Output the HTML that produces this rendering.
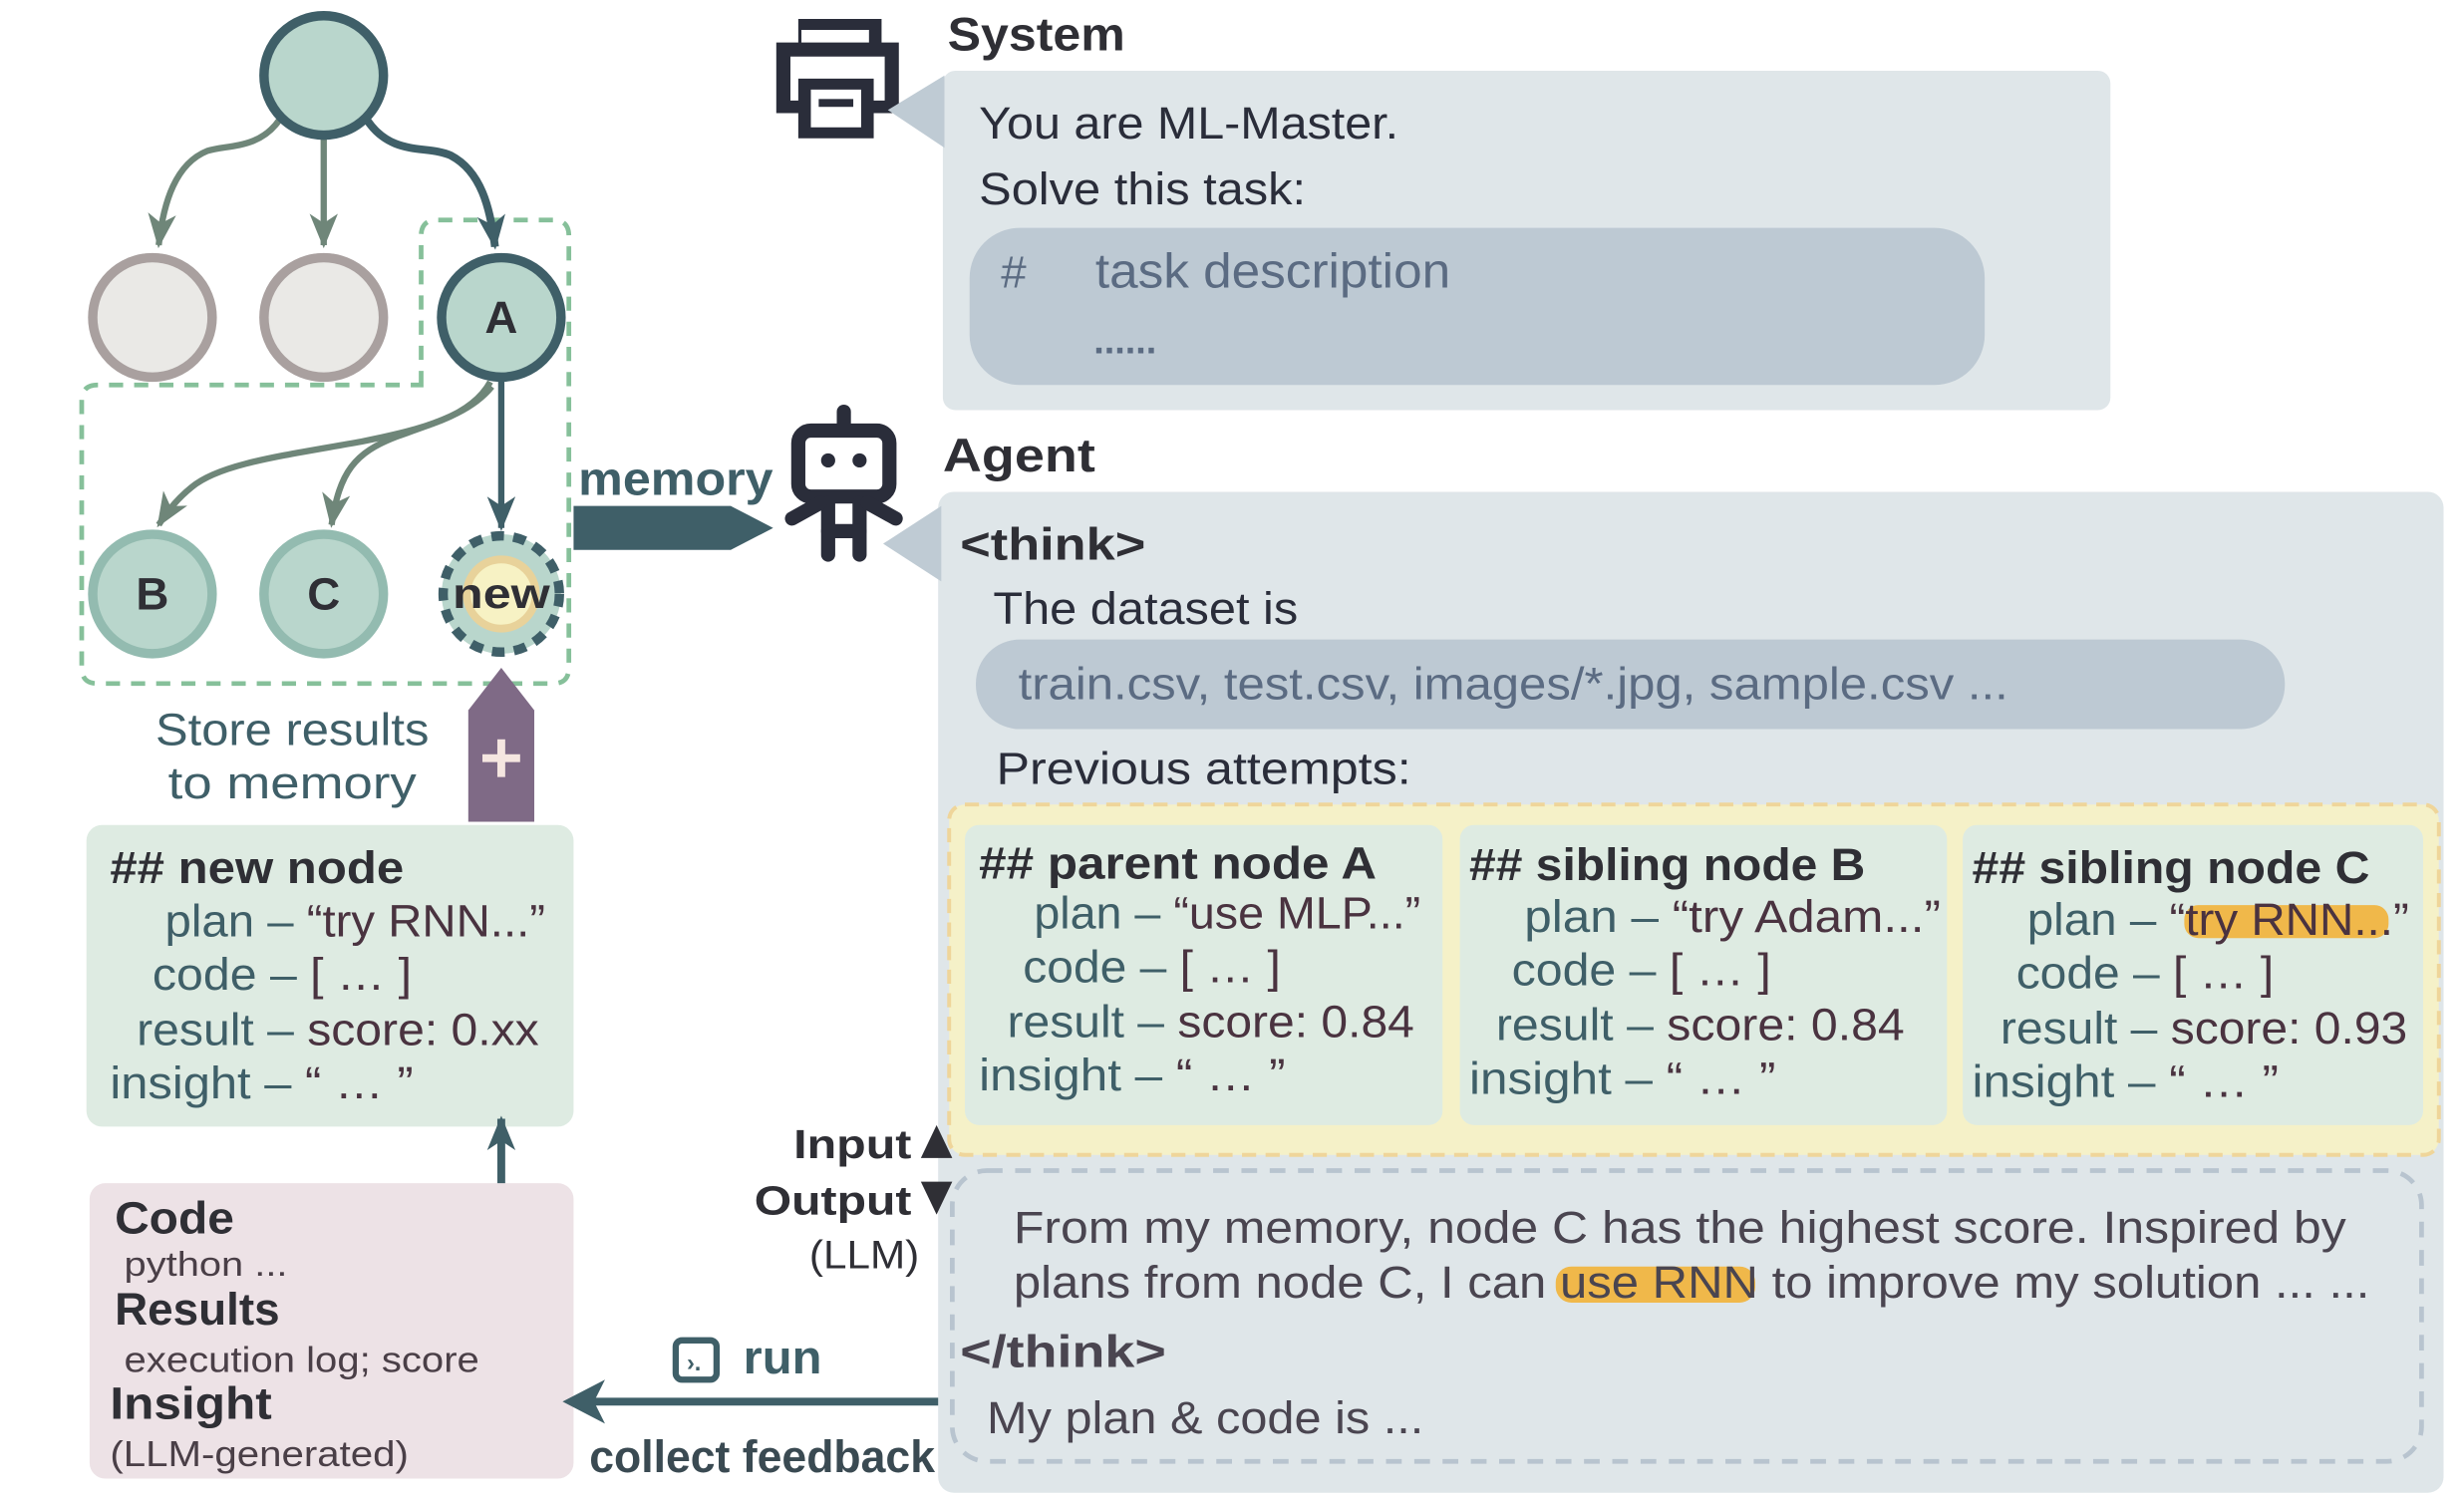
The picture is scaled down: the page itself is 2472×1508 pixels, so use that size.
<!DOCTYPE html>
<html><head><meta charset="utf-8"><style>
html,body{margin:0;padding:0;background:#fff;width:2472px;height:1508px;overflow:hidden}
svg{display:block}
text{font-family:"Liberation Sans",sans-serif}
.t{fill:#3f5f68}.v{fill:#4a3340}.h{fill:#2f2f35;font-weight:bold}
</style></head><body>
<svg width="2472" height="1508" viewBox="0 0 1568 956.5" xmlns="http://www.w3.org/2000/svg">
<defs>
<marker id="ag" markerUnits="userSpaceOnUse" markerWidth="24" markerHeight="20" refX="20" refY="9" orient="auto"><path d="M0,0 L22,9 L0,18 L6,9 z" fill="#6f8679"/></marker>
<marker id="ad" markerUnits="userSpaceOnUse" markerWidth="24" markerHeight="20" refX="20" refY="9" orient="auto"><path d="M0,0 L22,9 L0,18 L6,9 z" fill="#3f5f68"/></marker>
</defs>
<path d="M268,245 L268,150 Q268,140 278,140 L352,140 Q362,140 362,150 L362,425 Q362,435 352,435 L62,435 Q52,435 52,425 L52,255 Q52,245 62,245 Z" fill="none" stroke="#86c09a" stroke-width="3" stroke-dasharray="9,7"/>
<path d="M178,76 C165,95 145,92 132,96 C112,104 104,128 101,156" fill="none" stroke="#6f8679" stroke-width="4" marker-end="url(#ag)"/>
<path d="M206,88 L206,156" fill="none" stroke="#6f8679" stroke-width="4" marker-end="url(#ag)"/>
<path d="M234,77 C250,100 272,92 287,99 C306,109 312,132 315,157" fill="none" stroke="#3f5f68" stroke-width="5" marker-end="url(#ad)"/>
<path d="M312,243 C300,265 270,273 230,281 C180,290 140,295 122,310 C112,318 106,326 101,334" fill="none" stroke="#6f8679" stroke-width="4" marker-end="url(#ag)"/>
<path d="M313,246 C300,262 280,268 252,278 C226,288 216,300 211,334" fill="none" stroke="#6f8679" stroke-width="4" marker-end="url(#ag)"/>
<path d="M319,240 L319,336" fill="none" stroke="#3f5f68" stroke-width="4" marker-end="url(#ad)"/>
<circle cx="206" cy="48" r="38" fill="#b9d6cc" stroke="#3f5f68" stroke-width="6"/>
<circle cx="97" cy="202" r="38" fill="#eae9e6" stroke="#a9a09f" stroke-width="6"/>
<circle cx="206" cy="202" r="38" fill="#eae9e6" stroke="#a9a09f" stroke-width="6"/>
<circle cx="319" cy="202" r="38" fill="#b9d6cc" stroke="#3f5f68" stroke-width="6"/>
<text x="319" y="212" font-size="29" text-anchor="middle" class="h">A</text>
<circle cx="97" cy="378" r="38" fill="#b9d6cc" stroke="#93bbb0" stroke-width="6"/>
<text x="97" y="388" font-size="29" text-anchor="middle" class="h">B</text>
<circle cx="206" cy="378" r="38" fill="#b9d6cc" stroke="#93bbb0" stroke-width="6"/>
<text x="206" y="388" font-size="29" text-anchor="middle" class="h">C</text>
<circle cx="319" cy="378" r="38" fill="#b9d6cc"/>
<circle cx="319" cy="378" r="22" fill="#f7f2c4" stroke="#e8d29a" stroke-width="5"/>
<circle cx="319" cy="378" r="37" fill="none" stroke="#3f5f68" stroke-width="6" stroke-dasharray="8,6"/>
<text x="319" y="387" font-size="27" text-anchor="middle" class="h" textLength="62" lengthAdjust="spacingAndGlyphs">new</text>
<text x="368" y="315" font-size="30" fill="#3f5f68" font-weight="bold" textLength="124" lengthAdjust="spacingAndGlyphs">memory</text>
<polygon points="365,322 465,322 492,336 465,350 365,350" fill="#3f5f68"/>
<polygon points="298,523 340,523 340,452 319,425 298,452" fill="#7f6a86"/>
<rect x="307" y="480" width="24" height="5" fill="#f5e6e0"/><rect x="316.5" y="470.5" width="5" height="24" fill="#f5e6e0"/>
<text x="186" y="474" font-size="29" fill="#3f5f68" text-anchor="middle" textLength="174" lengthAdjust="spacingAndGlyphs">Store results</text>
<text x="186" y="508" font-size="29" fill="#3f5f68" text-anchor="middle" textLength="158" lengthAdjust="spacingAndGlyphs">to memory</text>
<rect x="55" y="525" width="310" height="192" rx="10" fill="#deebe2"/>
<text x="70" y="562" font-size="29" class="h" textLength="187" lengthAdjust="spacingAndGlyphs">## new node</text>
<text x="105" y="596" font-size="29" textLength="242" lengthAdjust="spacingAndGlyphs"><tspan class="t">plan – </tspan><tspan class="v">“try RNN...”</tspan></text>
<text x="97" y="630" font-size="29" textLength="165" lengthAdjust="spacingAndGlyphs"><tspan class="t">code – </tspan><tspan class="v">[ … ]</tspan></text>
<text x="87" y="665" font-size="29" textLength="256" lengthAdjust="spacingAndGlyphs"><tspan class="t">result – </tspan><tspan class="v">score: 0.xx</tspan></text>
<text x="70" y="699" font-size="29" textLength="193" lengthAdjust="spacingAndGlyphs"><tspan class="t">insight – </tspan><tspan class="v">“ … ”</tspan></text>
<path d="M319,768 L319,712" stroke="#3f5f68" stroke-width="5" marker-end="url(#ad)"/>
<rect x="57" y="753" width="308" height="188" rx="10" fill="#ede2e6"/>
<text x="73" y="785" font-size="29" class="h" textLength="76" lengthAdjust="spacingAndGlyphs">Code</text>
<text x="79" y="812" font-size="22" fill="#4a3f47" textLength="104" lengthAdjust="spacingAndGlyphs">python ...</text>
<text x="73" y="843" font-size="29" class="h" textLength="105" lengthAdjust="spacingAndGlyphs">Results</text>
<text x="79" y="873" font-size="23" fill="#4a3f47" textLength="226" lengthAdjust="spacingAndGlyphs">execution log; score</text>
<text x="70" y="903" font-size="29" class="h" textLength="103" lengthAdjust="spacingAndGlyphs">Insight</text>
<text x="70" y="933" font-size="23" fill="#4a3f47" textLength="190" lengthAdjust="spacingAndGlyphs">(LLM-generated)</text>
<line x1="598" y1="892" x2="375" y2="892" stroke="#3f5f68" stroke-width="5"/>
<polygon points="358,892 385,878 378,892 385,906" fill="#3f5f68"/>
<rect x="430" y="853" width="26" height="25" rx="4" fill="none" stroke="#3f5f68" stroke-width="4"/>
<text x="437" y="872" font-size="15" fill="#3f5f68" font-weight="bold">›.</text>
<text x="473" y="874" font-size="30" fill="#3f5f68" font-weight="bold" textLength="50" lengthAdjust="spacingAndGlyphs">run</text>
<text x="375" y="937" font-size="29" fill="#3a4a52" font-weight="bold" textLength="220" lengthAdjust="spacingAndGlyphs">collect feedback</text>
<text x="505" y="737" font-size="26" class="h" textLength="75" lengthAdjust="spacingAndGlyphs">Input</text>
<text x="480" y="773" font-size="26" class="h" textLength="100" lengthAdjust="spacingAndGlyphs">Output</text>
<text x="515" y="807" font-size="25" fill="#2f2f35" textLength="70" lengthAdjust="spacingAndGlyphs">(LLM)</text>
<g fill="#2a2d3a">
<path d="M494,27 L508,27 L508,12 L561,12 L561,27 L572,27 L572,72 L556,72 L556,88 L508,88 L508,72 L494,72 Z M503,36 L503,64 L508,64 L508,50 L556,50 L556,64 L563,64 L563,36 Z M510,19 L510,27 L553,27 L553,19 Z M516,57 L516,81 L548,81 L548,57 Z"/>
<rect x="521" y="63" width="22" height="5"/>
</g>
<text x="603" y="32" font-size="30" class="h" textLength="113" lengthAdjust="spacingAndGlyphs">System</text>
<rect x="600" y="45" width="743" height="216" rx="8" fill="#dfe6e9"/>
<polygon points="565,70 601,48 601,94" fill="#bfcbd4"/>
<text x="623" y="88" font-size="29" fill="#2a2d3a" textLength="267" lengthAdjust="spacingAndGlyphs">You are ML-Master.</text>
<text x="623" y="130" font-size="29" fill="#2a2d3a" textLength="208" lengthAdjust="spacingAndGlyphs">Solve this task:</text>
<rect x="617" y="145" width="646" height="100" rx="32" fill="#bdc9d3"/>
<text x="637" y="183" font-size="29" fill="#5b6b82">#</text>
<text x="697" y="183" font-size="31" fill="#5b6b82" textLength="226" lengthAdjust="spacingAndGlyphs">task description</text>
<text x="696" y="225" font-size="24" fill="#5b6b82" font-weight="bold">......</text>
<g fill="none" stroke="#2a2d3a" stroke-width="9" stroke-linecap="round">
<rect x="508" y="274" width="58" height="42" rx="8"/>
<line x1="537" y1="262" x2="537" y2="272"/>
<line x1="527" y1="320" x2="527" y2="353"/><line x1="547" y1="320" x2="547" y2="353"/>
<line x1="527" y1="338" x2="547" y2="338"/>
<line x1="504" y1="330" x2="522" y2="320"/><line x1="552" y1="320" x2="570" y2="330"/>
</g>
<circle cx="527" cy="293" r="4.5" fill="#2a2d3a"/><circle cx="547" cy="293" r="4.5" fill="#2a2d3a"/>
<text x="600" y="300" font-size="30" class="h" textLength="97" lengthAdjust="spacingAndGlyphs">Agent</text>
<rect x="597" y="313" width="958" height="637" rx="10" fill="#dfe6e9"/>
<polygon points="562,346 599,322 599,370" fill="#bfcbd4"/>
<polygon points="586,737 596,716 606,737" fill="#2f2f35"/>
<polygon points="586,752 606,752 596,773" fill="#2f2f35"/>
<text x="611" y="356" font-size="29" class="h" textLength="118" lengthAdjust="spacingAndGlyphs">&lt;think&gt;</text>
<text x="632" y="397" font-size="29" fill="#2a2d3a" textLength="194" lengthAdjust="spacingAndGlyphs">The dataset is</text>
<rect x="621" y="407" width="833" height="57" rx="28" fill="#bdc9d3"/>
<text x="648" y="445" font-size="29" fill="#5b6b82" textLength="630" lengthAdjust="spacingAndGlyphs">train.csv, test.csv, images/*.jpg, sample.csv ...</text>
<text x="634" y="499" font-size="29" fill="#2a2d3a" textLength="264" lengthAdjust="spacingAndGlyphs">Previous attempts:</text>
<rect x="604" y="512" width="948" height="223" rx="10" fill="#f5f1c8" stroke="#efd59a" stroke-width="2.5" stroke-dasharray="9,6"/>
<rect x="614" y="525" width="304" height="191" rx="9" fill="#deebe2"/>
<rect x="929" y="525" width="310" height="191" rx="9" fill="#deebe2"/>
<rect x="1249" y="525" width="293" height="191" rx="9" fill="#deebe2"/>
<rect x="1390" y="576" width="130" height="21" rx="9" fill="#f0b84a"/>
<g font-size="29">
<text x="623" y="559" class="h" textLength="253" lengthAdjust="spacingAndGlyphs">## parent node A</text>
<text x="658" y="591" textLength="246" lengthAdjust="spacingAndGlyphs"><tspan class="t">plan – </tspan><tspan class="v">“use MLP...”</tspan></text>
<text x="651" y="625" textLength="164" lengthAdjust="spacingAndGlyphs"><tspan class="t">code – </tspan><tspan class="v">[ … ]</tspan></text>
<text x="641" y="660" textLength="259" lengthAdjust="spacingAndGlyphs"><tspan class="t">result – </tspan><tspan class="v">score: 0.84</tspan></text>
<text x="623" y="694" textLength="195" lengthAdjust="spacingAndGlyphs"><tspan class="t">insight – </tspan><tspan class="v">“ … ”</tspan></text>
<text x="935" y="560" class="h" textLength="252" lengthAdjust="spacingAndGlyphs">## sibling node B</text>
<text x="970" y="593" textLength="265" lengthAdjust="spacingAndGlyphs"><tspan class="t">plan – </tspan><tspan class="v">“try Adam...”</tspan></text>
<text x="962" y="627" textLength="165" lengthAdjust="spacingAndGlyphs"><tspan class="t">code – </tspan><tspan class="v">[ … ]</tspan></text>
<text x="952" y="662" textLength="260" lengthAdjust="spacingAndGlyphs"><tspan class="t">result – </tspan><tspan class="v">score: 0.84</tspan></text>
<text x="935" y="696" textLength="195" lengthAdjust="spacingAndGlyphs"><tspan class="t">insight – </tspan><tspan class="v">“ … ”</tspan></text>
<text x="1255" y="562" class="h" textLength="253" lengthAdjust="spacingAndGlyphs">## sibling node C</text>
<text x="1290" y="595" textLength="243" lengthAdjust="spacingAndGlyphs"><tspan class="t">plan – </tspan><tspan class="v">“try RNN...”</tspan></text>
<text x="1283" y="629" textLength="164" lengthAdjust="spacingAndGlyphs"><tspan class="t">code – </tspan><tspan class="v">[ … ]</tspan></text>
<text x="1273" y="664" textLength="259" lengthAdjust="spacingAndGlyphs"><tspan class="t">result – </tspan><tspan class="v">score: 0.93</tspan></text>
<text x="1255" y="698" textLength="195" lengthAdjust="spacingAndGlyphs"><tspan class="t">insight – </tspan><tspan class="v">“ … ”</tspan></text>
</g>
<rect x="606" y="745" width="935" height="185" rx="22" fill="none" stroke="#b8c4cf" stroke-width="3" stroke-dasharray="10,8"/>
<rect x="990" y="806" width="127" height="23" rx="10" fill="#f0b84a"/>
<text x="645" y="791" font-size="29" fill="#4a4550" textLength="848" lengthAdjust="spacingAndGlyphs">From my memory, node C has the highest score. Inspired by</text>
<text x="645" y="826" font-size="29" fill="#4a4550" textLength="863" lengthAdjust="spacingAndGlyphs">plans from node C, I can use RNN to improve my solution ... ...</text>
<text x="611" y="870" font-size="29" fill="#4a4550" font-weight="bold" textLength="131" lengthAdjust="spacingAndGlyphs">&lt;/think&gt;</text>
<text x="628" y="912" font-size="29" fill="#4a4550" textLength="278" lengthAdjust="spacingAndGlyphs">My plan &amp; code is ...</text>
</svg>
</body></html>
